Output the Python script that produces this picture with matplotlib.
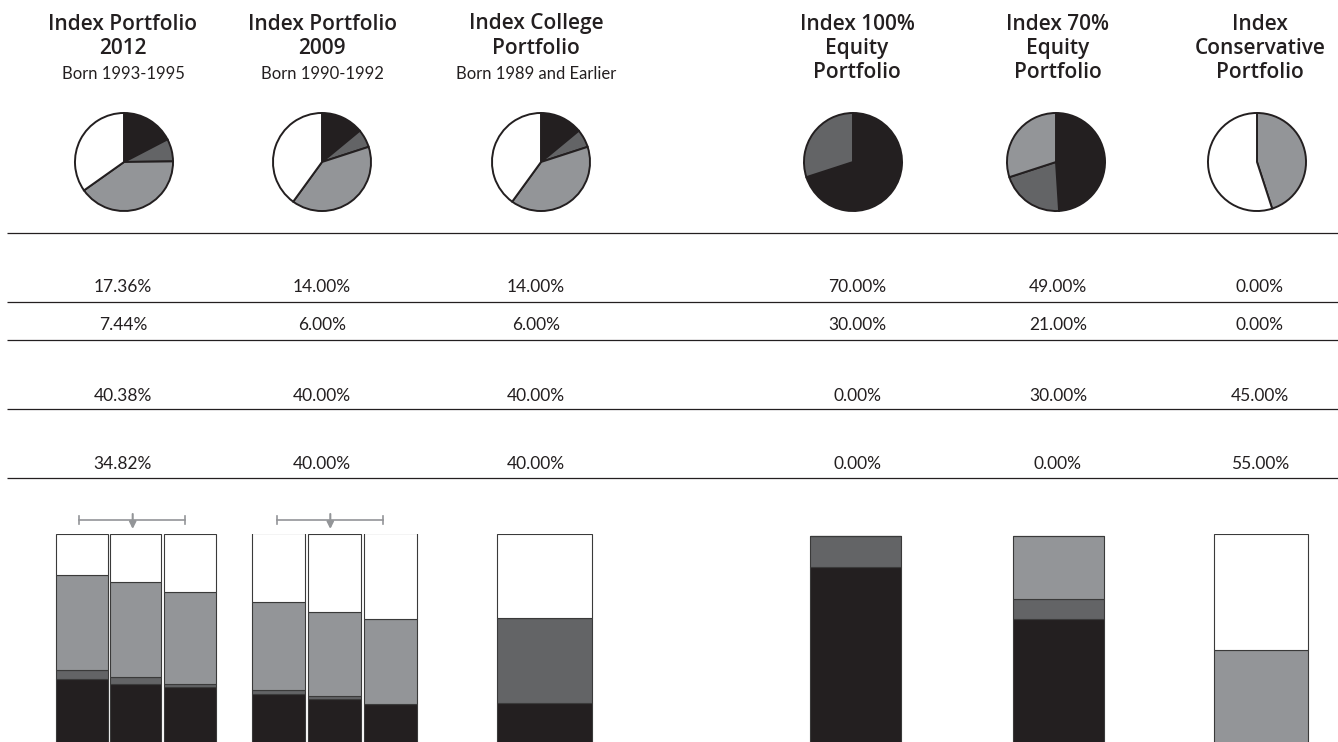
import matplotlib
matplotlib.use("Agg")
import matplotlib.pyplot as plt

# portfolio columns
titles = [
    ["Index Portfolio", "2012"],
    ["Index Portfolio", "2009"],
    ["Index College", "Portfolio"],
    ["Index 100%", "Equity", "Portfolio"],
    ["Index 70%", "Equity", "Portfolio"],
    ["Index", "Conservative", "Portfolio"],
]
subtitles = ["Born 1993-1995", "Born 1990-1992", "Born 1989 and Earlier", "", "", ""]

# allocation per row of the table (black, dark gray, light gray, white)
row_black = [17.36, 14.00, 14.00, 70.00, 49.00, 0.00]
row_dark = [7.44, 6.00, 6.00, 30.00, 21.00, 0.00]
row_light = [40.38, 40.00, 40.00, 0.00, 30.00, 45.00]
row_white = [34.82, 40.00, 40.00, 0.00, 0.00, 55.00]

# stacked bars at bottom, bottom -> top
bar_black = [31.5, 28.8, 27.4, 24.3, 21.8, 19.4, 20.0, 84.3, 59.7, 0.0]
bar_dark = [4.0, 3.3, 1.4, 1.6, 1.2, 0.0, 40.1, 14.9, 9.5, 0.0]
bar_light = [45.0, 45.2, 43.9, 41.8, 40.2, 40.5, 0.0, 0.0, 30.0, 44.9]
bar_white = [19.5, 22.7, 27.3, 32.7, 37.1, 40.5, 40.2, 0.0, 0.0, 55.4]

colors = ["#231f20", "#636466", "#939598", "#ffffff"]
ink = "#231f20"

W, H = 1338, 742
fig = plt.figure(figsize=(W / 100, H / 100), dpi=100)
fig.patch.set_facecolor("white")

# overlay in pixel coords for text / rules
ax = fig.add_axes([0, 0, 1, 1])
ax.set_xlim(0, W)
ax.set_ylim(H, 0)
ax.axis("off")

text_x = [123, 322, 536, 857, 1058, 1260]
pie_x = [124, 322, 541, 853, 1056, 1257]
bar_x = [82, 135.5, 189.5, 278, 334.3, 390.7, 544, 855.6, 1058.7, 1261.3]
bar_w = [52, 51, 52, 53, 53, 53, 95, 91, 91, 94]

for i, t in enumerate(titles):
    for j, line in enumerate(t):
        ax.text(text_x[i], 24 + j * 24.5, line, ha="center", va="center",
                fontsize=15, fontweight="semibold", family="Open Sans", color=ink)
    if subtitles[i]:
        ax.text(text_x[i], 74, subtitles[i], ha="center", va="center",
                fontsize=12, family="Lato", color=ink)

# table rules
for yy in [233.3, 302.3, 340, 409, 478.3]:
    ax.plot([7, W], [yy, yy], color=ink, lw=0.9, solid_capstyle="butt")

rows = [row_black, row_dark, row_light, row_white]
row_y = [287, 325, 395.7, 464]
for r, yy in zip(rows, row_y):
    for i, v in enumerate(r):
        ax.text(text_x[i], yy, "%.2f%%" % v, ha="center", va="center",
                fontsize=12.5, family="Lato", color=ink)

# glide path arrows
for x0, x1, xm in [(79.3, 185.3, 132.7), (276.7, 382.7, 330.3)]:
    ax.plot([x0, x1], [520, 520], color="#939598", lw=1.2)
    ax.plot([x0, x0], [516, 524], color="#939598", lw=1.2)
    ax.plot([x1, x1], [516, 524], color="#939598", lw=1.2)
    ax.annotate("", xy=(xm, 529), xytext=(xm, 514),
                arrowprops=dict(arrowstyle="-|>", color="#939598", lw=1.5,
                                mutation_scale=10, shrinkA=0, shrinkB=0))

# pies
r = 50
pie_y = 162
for i in range(6):
    vals = [rows[k][i] for k in range(4)]
    cols = [colors[k] for k in range(4) if vals[k] > 0]
    vals = [v for v in vals if v > 0]
    pax = fig.add_axes([(pie_x[i] - r) / W, 1 - (pie_y + r) / H, 2 * r / W, 2 * r / H])
    pax.pie(vals, colors=cols, startangle=90, counterclock=False,
            wedgeprops=dict(edgecolor=ink, linewidth=1.4))
    pax.set_xlim(-1.02, 1.02)
    pax.set_ylim(-1.02, 1.02)
    pax.set_aspect("auto")

# bars
top_px = 534.3
bax = fig.add_axes([0, 0, 1, (H - top_px) / H])
bax.set_xlim(0, W)
bax.set_ylim(1.4, 100)
bax.axis("off")
bottom = [0.0] * len(bar_x)
for vals, c in zip([bar_black, bar_dark, bar_light, bar_white], colors):
    bax.bar(bar_x, vals, width=bar_w, bottom=bottom, color=c,
            edgecolor="#3a3a3a", linewidth=0.8)
    bottom = [b + v for b, v in zip(bottom, vals)]

fig.savefig("out.png", dpi=100)
